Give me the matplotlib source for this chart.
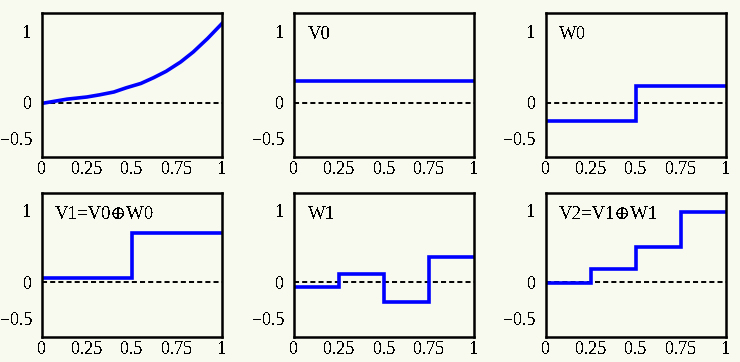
import matplotlib.pyplot as plt

# Цвета и шрифт
bg = '#F8FAF0'
plt.rcParams['font.family'] = ['Liberation Serif', 'DejaVu Serif']
plt.rcParams['font.size'] = 13
plt.rcParams['text.antialiased'] = False

# Исходная функция
f_x = [0.0, 0.14, 0.25, 0.32, 0.40, 0.47, 0.55, 0.62, 0.69, 0.77, 0.84, 0.92, 1.0]
f_y = [-0.01, 0.05, 0.08, 0.11, 0.15, 0.21, 0.27, 0.35, 0.44, 0.57, 0.71, 0.90, 1.11]

# Ступенчатые функции: границы интервалов и уровни
edges_1 = [0.0, 1.0]
edges_2 = [0.0, 0.5, 1.0]
edges_4 = [0.0, 0.25, 0.5, 0.75, 1.0]
V0 = [0.31]
W0 = [-0.26, 0.23]
V1 = [0.06, 0.69]
W1 = [-0.065, 0.115, -0.27, 0.36]
V2 = [-0.01, 0.19, 0.49, 0.99]

panels = [
    (None, None, ''),
    (edges_1, V0, 'V0'),
    (edges_2, W0, 'W0'),
    (edges_2, V1, 'V1=V0\u2295W0'),
    (edges_4, W1, 'W1'),
    (edges_4, V2, 'V2=V1\u2295W1'),
]

x_ticks = [0, 0.25, 0.5, 0.75, 1]
x_labels = ['0', '0.25', '0.5', '0.75', '1']
y_ticks = [-0.5, 0, 1]
y_labels = ['\u22120.5', '0', '1']

fig = plt.figure(figsize=(7.4, 3.62), dpi=100, facecolor=bg)
lefts = [0.0564, 0.3973, 0.7374]
bottoms = [0.5663, 0.0699]
w, h = 0.2437, 0.3966

for i, (edges, vals, label) in enumerate(panels):
    ax = fig.add_axes([lefts[i % 3], bottoms[i // 3], w, h])
    ax.set_facecolor(bg)
    # Нулевая линия
    ax.plot([0, 1], [0, 0], color='black', lw=1.4, dashes=(2.6, 1.6), zorder=1)
    if edges is None:
        ax.plot(f_x, f_y, color='#0000FF', lw=2.6, zorder=2)
    else:
        ax.stairs(vals, edges, color='#0000FF', lw=2.6, baseline=None, zorder=2)
        ax.text(0.075, 0.85, label, transform=ax.transAxes, fontsize=13.5,
                va='center', ha='left')
    ax.set_xlim(0, 1)
    ax.set_ylim(-0.76, 1.25)
    ax.set_xticks(x_ticks)
    ax.set_xticklabels(x_labels)
    ax.set_yticks(y_ticks)
    ax.set_yticklabels(y_labels)
    ax.tick_params(length=0, labelsize=13)
    ax.tick_params(axis='y', pad=7)
    ax.tick_params(axis='x', pad=3)
    for s in ax.spines.values():
        s.set_linewidth(1.8)

fig.savefig('out.png', dpi=100, facecolor=bg)
